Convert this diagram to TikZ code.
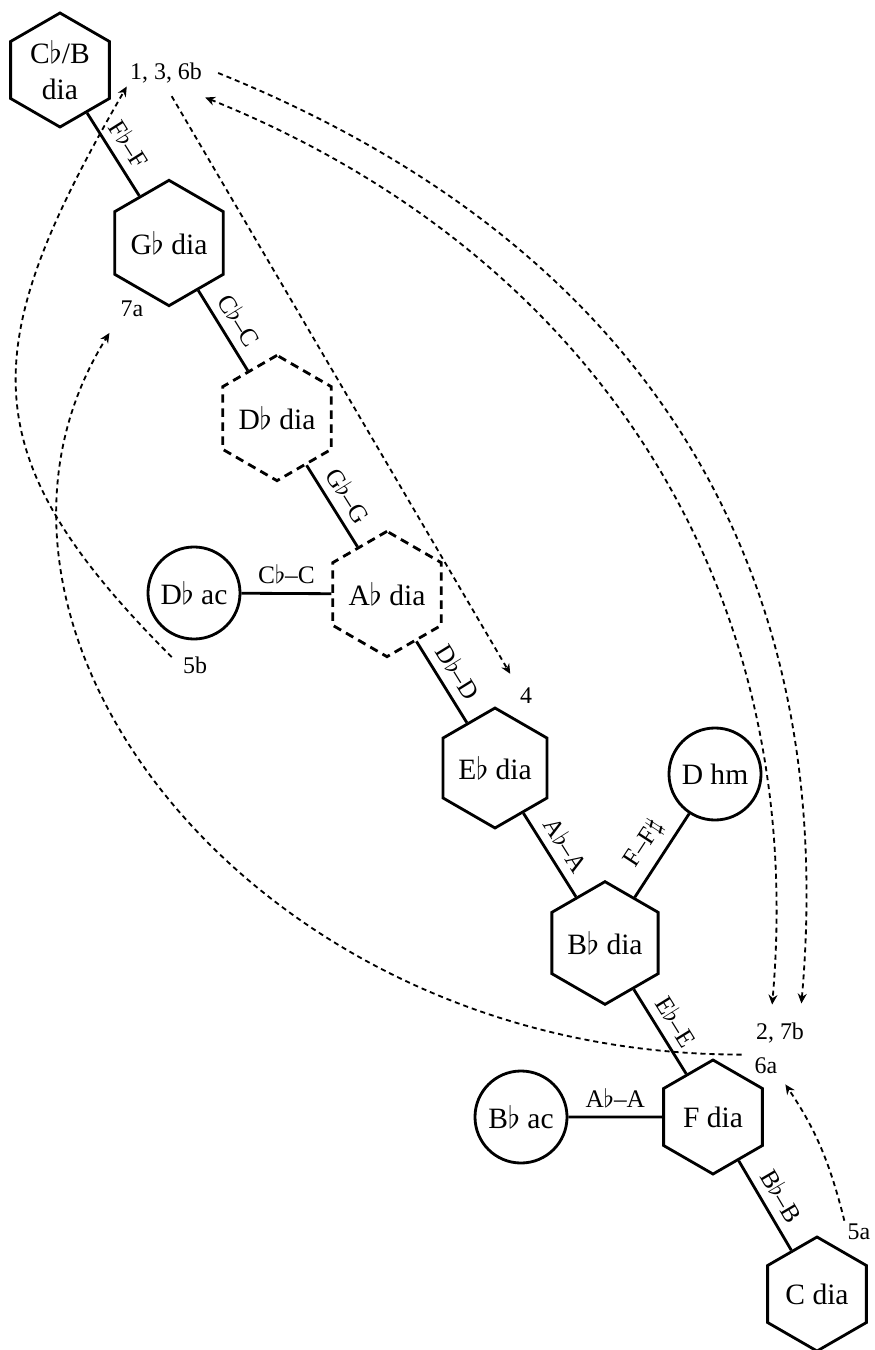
\documentclass[tikz,border=0pt]{standalone}
\usepackage{fontspec}
\setmainfont{Liberation Serif}
\usetikzlibrary{shapes.geometric, arrows.meta, positioning}

\newcommand{\flt}{$\flat$}
\newcommand{\shrp}{$\sharp$}

\begin{document}
\begin{tikzpicture}[
    x=0.0125cm, y=0.0125cm,
    hexdia/.style={regular polygon, regular polygon sides=6, shape border rotate=30, draw, line width=1pt, minimum size=1.425cm, inner sep=0pt, align=center, font=\fontsize{10.5}{13}\selectfont},
    hexdash/.style={hexdia, dash pattern=on 3pt off 2pt},
    modecirc/.style={circle, draw, line width=1pt, minimum size=1.15cm, inner sep=0pt, font=\fontsize{10.5}{13}\selectfont},
    link/.style={line width=1pt},
    linklbl/.style={midway, sloped, above, inner sep=3pt, font=\fontsize{9}{11}\selectfont},
    steplbl/.style={inner sep=1pt, font=\fontsize{8.5}{10}\selectfont},
    steparrow/.style={line width=0.65pt, dash pattern=on 1.8pt off 1.4pt, -{Stealth[length=3.5pt, width=3.2pt]}},
    bothways/.style={steparrow, {Stealth[length=3.5pt, width=3.2pt]}-{Stealth[length=3.5pt, width=3.2pt]}}
]
    \useasboundingbox (0,0) rectangle (874,-1350);

    % diatonic chain
    \node [hexdia] (cbdia) at (60,-70) {C\flt/B\\dia};
    \node [hexdia] (gbdia) at (169,-243) {G\flt{} dia};
    \node [hexdash] (dbdia) at (277,-418) {D\flt{} dia};
    \node [hexdash] (abdia) at (387,-594) {A\flt{} dia};
    \node [hexdia] (ebdia) at (495,-768) {E\flt{} dia};
    \node [hexdia] (bbdia) at (605,-943) {B\flt{} dia};
    \node [hexdia] (fdia) at (713,-1117) {F dia};
    \node [hexdia] (cdia) at (817,-1294) {C dia};

    % side modes
    \node [modecirc] (dbac) at (194,-593) {D\flt{} ac};
    \node [modecirc] (dhm) at (715,-774) {D hm};
    \node [modecirc] (bbac) at (521,-1117) {B\flt{} ac};

    \draw [link] (cbdia) -- node [linklbl] {F\flt--F} (gbdia);
    \draw [link] (gbdia) -- node [linklbl] {C\flt--C} (dbdia);
    \draw [link] (dbdia) -- node [linklbl] {G\flt--G} (abdia);
    \draw [link] (dbac) -- node [linklbl] {C\flt--C} (abdia);
    \draw [link] (abdia) -- node [linklbl] {D\flt--D} (ebdia);
    \draw [link] (ebdia) -- node [linklbl] {A\flt--A} (bbdia);
    \draw [link] (bbdia) -- node [linklbl] {F--F\shrp} (dhm);
    \draw [link] (bbdia) -- node [linklbl] {E\flt--E} (fdia);
    \draw [link] (bbac) -- node [linklbl] {A\flt--A} (fdia);
    \draw [link] (fdia) -- node [linklbl] {B\flt--B} (cdia);

    % steps
    \node [steplbl] (s136) at (166,-73) {1, 3, 6b};
    \node [steplbl] (s7a) at (132,-309) {7a};
    \node [steplbl] (s5b) at (195,-665) {5b};
    \node [steplbl] (s4) at (526,-696) {4};
    \node [steplbl] (s27b) at (780,-1033) {2, 7b};
    \node [steplbl] (s6a) at (766,-1066) {6a};
    \node [steplbl] (s5a) at (859,-1232) {5a};

    \draw [steparrow] ([xshift=4.6pt]s136.east) .. controls +(-22:450) and +(85:450) .. ([xshift=-2.1pt, yshift=5.7pt]s27b.north east);
    \draw [bothways] ([yshift=-3.9pt]s136.south east) .. controls +(-22:420) and +(85:420) .. ([xshift=-2.8pt, yshift=5.3pt]s27b.north);
    \draw [steparrow, shorten <=4pt, shorten >=4.5pt] (s136.south) -- (s4.north west);
    \draw [steparrow, shorten <=4pt] (s5b.west) .. controls +(135:300) and +(240:300) .. (s136.south west);
    \draw [steparrow, shorten <=3.5pt, shorten >=5.3pt] (s6a.north west) .. controls +(180:500) and +(238:360) .. (s7a.south west);
    \draw [steparrow, shorten >=3pt] (s5a.north west) to [bend right=10] (s6a.south east);
\end{tikzpicture}
\end{document}
